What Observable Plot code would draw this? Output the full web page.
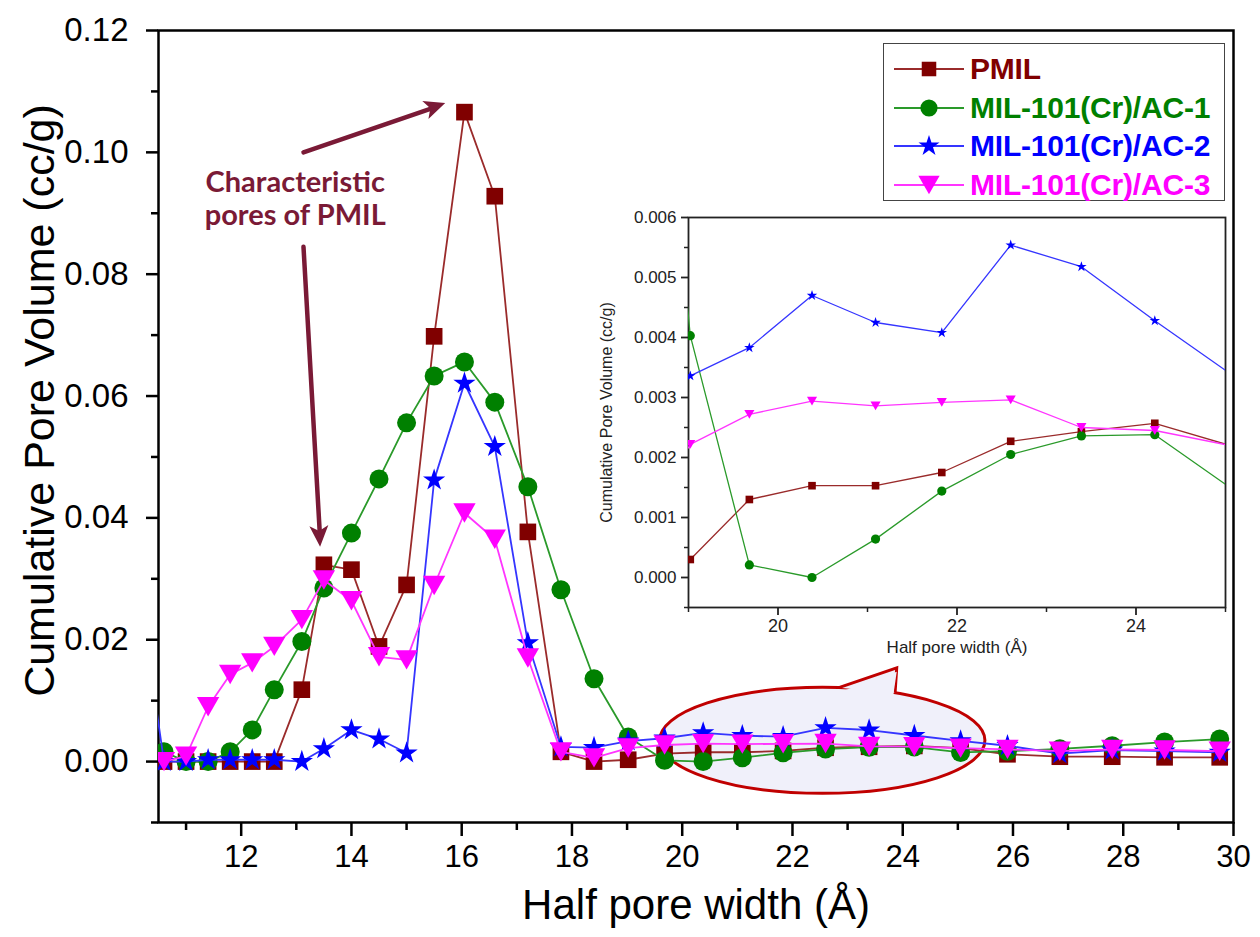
<!DOCTYPE html>
<html>
<head>
<meta charset="utf-8">
<script src="https://cdn.jsdelivr.net/npm/d3@7"></script>
<script src="https://cdn.jsdelivr.net/npm/@observablehq/plot@0.6"></script>
<style>
  body { margin: 0; background: #fff; }
  #wrap { position: relative; width: 1260px; height: 937px; overflow: hidden; background: #fff;
          font-family: "Liberation Sans", Arial, sans-serif; }
  #wrap > * { position: absolute; }
  #legend { left: 883px; top: 43px; width: 342px; height: 158px; border: 1.5px solid #444; box-sizing: border-box; background: #fff; }
  .entry { position: absolute; left: 8px; height: 40px; display: flex; align-items: center; }
  .entry span { font-weight: bold; font-size: 30px; margin-left: 6px; letter-spacing: -0.2px; }
</style>
</head>
<body>
<div id="wrap"></div>
<script>
// ---------------- data ----------------
const seriesNames = ["PMIL", "MIL-101(Cr)/AC-1", "MIL-101(Cr)/AC-2", "MIL-101(Cr)/AC-3"];
const poreWidth = [10.2, 10.6, 11.0, 11.4, 11.8, 12.2, 12.6, 13.1, 13.5, 14.0, 14.5, 15.0, 15.5, 16.05, 16.6, 17.2,
                   17.8, 18.4, 19.02, 19.68, 20.38, 21.09, 21.83, 22.6, 23.39, 24.21, 25.05, 25.9, 26.85, 27.8, 28.75, 29.75];
const pmil = [null, 0, 0, 0, 0, 0, 0, 0.0118, 0.0323, 0.0315, 0.0189, 0.0290, 0.0698, 0.1066, 0.0928, 0.0377,
              0.0016, 0.0000, 0.0003, 0.0013, 0.00153, 0.00153, 0.00175, 0.00227, 0.00243, 0.00257, 0.0022, 0.0012, 0.0008, 0.0008, 0.0007, 0.0007];
const ac1 = [null, 0.0016, 0.0000, 0.0000, 0.0016, 0.0052, 0.0118, 0.0197, 0.0285, 0.0375, 0.0464, 0.0556, 0.0633, 0.0656, 0.0590, 0.0451,
             0.0282, 0.0136, 0.00403, 0.00021, 0.0, 0.00064, 0.00144, 0.00205, 0.00236, 0.00238, 0.0015, 0.0017, 0.0021, 0.0026, 0.0032, 0.0037];
const ac2 = [0.025, 0, 0, 0.0003, 0.0003, 0.0003, 0.0003, 0.0, 0.0021, 0.0052, 0.0037, 0.0014, 0.0462, 0.0621, 0.0517, 0.0195,
             0.0024, 0.0023, 0.00336, 0.00383, 0.0047, 0.00425, 0.00408, 0.00554, 0.00518, 0.00428, 0.0034, 0.0026, 0.0013, 0.0019, 0.0017, 0.0015];
const ac3 = [null, 0, 0.0009, 0.0090, 0.0143, 0.0162, 0.0189, 0.0233, 0.0298, 0.0264, 0.0172, 0.0167, 0.0289, 0.0408, 0.0365, 0.0170,
             0.0016, 0.0006, 0.00222, 0.00272, 0.00294, 0.00286, 0.00292, 0.00296, 0.0025, 0.00245, 0.0022, 0.0020, 0.0017, 0.0020, 0.0019, 0.0017];
const seriesValues = [pmil, ac1, ac2, ac3];

// ticks
const mainXTicks = [12, 14, 16, 18, 20, 22, 24, 26, 28, 30];
const mainXMinor = [11, 13, 15, 17, 19, 21, 23, 25, 27, 29];
const mainYTicks = [0, 0.02, 0.04, 0.06, 0.08, 0.10, 0.12];
const mainYMinor = [-0.01, 0.01, 0.03, 0.05, 0.07, 0.09, 0.11];
const insetXTicks = [20, 22, 24];
const insetXMinor = [19, 21, 23, 25];
const insetYTicks = [0, 0.001, 0.002, 0.003, 0.004, 0.005, 0.006];
const insetYMinor = [-0.0005, 0.0005, 0.0015, 0.0025, 0.0035, 0.0045, 0.0055];

// annotations (data coordinates)
const noteText = ["Characteristic\npores of PMIL"];
const notePos = [12.98, 0.0925];
const noteArrows = [
  {x1: 13.13, y1: 0.1000, x2: 15.71, y2: 0.1080},
  {x1: 13.13, y1: 0.0845, x2: 13.44, y2: 0.0352}
];
const callout = {cx: 22.55, cy: 0.0034, rx: 2.95, ry: 0.0087, tipX: 23.9, tipY: 0.0153, baseX1: 22.85, baseX2: 23.87};

// ---------------- styles ----------------
const seriesColors = ["#800000", "#008000", "#0000ff", "#ff00ff"];
const lineColors = ["#9a2b2b", "#2a9a2a", "#3535ff", "#ff35ff"];
const noteColor = "#7a1a36";
const triangleDown = {
  draw(ctx, size) {
    const s = Math.sqrt(size), w = 1.5 * s, h = 1.3 * s;
    ctx.moveTo(-w / 2, -h / 2); ctx.lineTo(w / 2, -h / 2); ctx.lineTo(0, h / 2); ctx.closePath();
  }
};
const symbols = [d3.symbolSquare, d3.symbolCircle, d3.symbolStar, triangleDown];
const mainR = [9.4, 9.5, 7.0, 8.4];
const insetR = [4.3, 4.6, 3.3, 3.8];
const font = "Liberation Sans, Arial, sans-serif";

function seriesMarks(r, strokeWidth) {
  return seriesValues.flatMap((vals, i) => {
    const data = poreWidth.map((x, j) => ({x, y: vals[j]})).filter(d => d.y != null);
    return [
      Plot.line(data, {x: "x", y: "y", stroke: lineColors[i], strokeWidth, clip: true}),
      Plot.dot(data, {x: "x", y: "y", fill: seriesColors[i], stroke: "none", r: r[i], symbol: symbols[i], clip: true})
    ];
  });
}

// ---------------- main chart ----------------
const main = Plot.plot({
  width: 1260, height: 937,
  marginLeft: 158, marginRight: 27, marginTop: 30, marginBottom: 115,
  x: {domain: [10.5, 30]},
  y: {domain: [-0.01, 0.12]},
  style: {fontFamily: font, background: "transparent", overflow: "visible", color: "#000"},
  marks: [
    Plot.axisY({ticks: mainYTicks, tickSize: 12, tickPadding: 18, fontSize: 33, strokeWidth: 2.5, tickFormat: d => d.toFixed(2), label: null}),
    Plot.axisY({ticks: mainYMinor, tickSize: 7, strokeWidth: 2.5, tickFormat: () => null, label: null}),
    Plot.axisX({ticks: mainXTicks, tickSize: 14, tickPadding: 8, fontSize: 31, strokeWidth: 2.5, tickFormat: d => String(d), label: null}),
    Plot.axisX({ticks: mainXMinor, tickSize: 8, strokeWidth: 2.5, tickFormat: () => null, label: null}),
    Plot.frame({stroke: "#000", strokeWidth: 2.5}),
    ...seriesMarks(mainR, 1.8),
    Plot.text(["Cumulative Pore Volume (cc/g)"], {frameAnchor: "left", textAnchor: "middle", rotate: -90, dx: -118, dy: -26, fontSize: 43, fill: "#000"}),
    Plot.text(["Half pore width (Å)"], {frameAnchor: "bottom", textAnchor: "middle", dy: 96, fontSize: 42, fill: "#000"}),
    Plot.arrow(noteArrows, {x1: "x1", y1: "y1", x2: "x2", y2: "y2", stroke: noteColor, strokeWidth: 4.5, headLength: 0, insetEnd: 14}),
    Plot.text(noteText, {x: () => notePos[0], y: () => notePos[1], fontSize: 29, fontWeight: "bold", fontFamily: "Lato, Open Sans, sans-serif", fill: noteColor, lineHeight: 1.12})
  ]
});
main.style.left = "0px"; main.style.top = "0px";

{
  const sx = main.scale("x"), sy = main.scale("y");
  // callout ellipse drawn with the main scales, beneath the data
  const cx = sx.apply(callout.cx), cy = sy.apply(callout.cy);
  const rx = sx.apply(callout.cx + callout.rx) - cx, ry = sy.apply(callout.cy - callout.ry) - cy;
  const topY = px => cy - ry * Math.sqrt(Math.max(0, 1 - ((px - cx) / rx) ** 2));
  const b1 = sx.apply(callout.baseX1), b2 = sx.apply(callout.baseX2);
  const tx = sx.apply(callout.tipX), ty = sy.apply(callout.tipY);
  const g = d3.create("svg:g").attr("aria-label", "callout");
  g.append("ellipse").attr("cx", cx).attr("cy", cy).attr("rx", rx).attr("ry", ry)
    .attr("fill", "#f0f0fa").attr("stroke", "#c00000").attr("stroke-width", 3);
  g.append("path").attr("d", `M${b1},${topY(b1)}L${tx},${ty}L${b2},${topY(b2)}`)
    .attr("fill", "#f0f0fa").attr("stroke", "#c00000").attr("stroke-width", 3).attr("stroke-linejoin", "miter");
  g.append("path").attr("d", `M${b1 + 2},${topY(b1) + 4}L${tx},${ty + 4}L${b2 - 2},${topY(b2) + 4}Z`)
    .attr("fill", "#f0f0fa").attr("stroke", "none");
  const firstLine = main.querySelector('[aria-label="line"]');
  main.insertBefore(g.node(), firstLine);

  // filled arrow heads at the arrow ends
  const heads = d3.select(main).append("g").attr("aria-label", "arrow heads").attr("fill", noteColor);
  noteArrows.forEach(a => {
    const x1 = sx.apply(a.x1), y1 = sy.apply(a.y1), x2 = sx.apply(a.x2), y2 = sy.apply(a.y2);
    const ang = Math.atan2(y2 - y1, x2 - x1), len = 21, half = 9.5;
    const bx = x2 - len * Math.cos(ang), by = y2 - len * Math.sin(ang);
    const nx = -Math.sin(ang) * half, ny = Math.cos(ang) * half;
    const mx = x2 - 0.75 * len * Math.cos(ang), my = y2 - 0.75 * len * Math.sin(ang);
    heads.append("path").attr("d", `M${x2},${y2}L${bx + nx},${by + ny}L${mx},${my}L${bx - nx},${by - ny}Z`);
  });
}

// ---------------- inset chart ----------------
const inset = Plot.plot({
  width: 650, height: 470,
  marginLeft: 98, marginRight: 15, marginTop: 17, marginBottom: 63,
  x: {domain: [19, 25]},
  y: {domain: [-0.0005, 0.006]},
  style: {fontFamily: font, background: "transparent", overflow: "visible", color: "#222"},
  marks: [
    Plot.axisY({ticks: insetYTicks, tickSize: 7, tickPadding: 5, fontSize: 17, strokeWidth: 1.8, tickFormat: d => d.toFixed(3), label: null}),
    Plot.axisY({ticks: insetYMinor, tickSize: 4, strokeWidth: 1.5, tickFormat: () => null, label: null}),
    Plot.axisX({ticks: insetXTicks, tickSize: 8, tickPadding: 4, fontSize: 18, strokeWidth: 1.8, tickFormat: d => String(d), label: null}),
    Plot.axisX({ticks: insetXMinor, tickSize: 5, strokeWidth: 1.5, tickFormat: () => null, label: null}),
    Plot.frame({stroke: "#222", strokeWidth: 1.8}),
    ...seriesMarks(insetR, 1.3),
    Plot.text(["Cumulative Pore Volume (cc/g)"], {frameAnchor: "left", textAnchor: "middle", rotate: -90, dx: -82, fontSize: 16, fill: "#222"}),
    Plot.text(["Half pore width (Å)"], {frameAnchor: "bottom", textAnchor: "middle", dy: 45, fontSize: 17, fill: "#222"})
  ]
});
inset.style.left = "590px"; inset.style.top = "200px";

// ---------------- legend ----------------
const wrap = document.getElementById("wrap");
wrap.appendChild(main);
wrap.appendChild(inset);
const legend = d3.select(wrap).append("div").attr("id", "legend");
const legendR = [8.2, 8.6, 6.6, 8.0];
seriesNames.forEach((name, i) => {
  const e = legend.append("div").attr("class", "entry").style("top", `${5 + i * 38.5}px`);
  const svg = e.append("svg").attr("width", 72).attr("height", 40);
  svg.append("line").attr("x1", 2).attr("x2", 72).attr("y1", 20).attr("y2", 20)
    .attr("stroke", lineColors[i]).attr("stroke-width", 1.8);
  svg.append("path").attr("transform", "translate(37,20)")
    .attr("d", d3.symbol(symbols[i], Math.PI * legendR[i] ** 2)()).attr("fill", seriesColors[i]);
  e.append("span").style("color", seriesColors[i]).text(name);
});
</script>
</body>
</html>
